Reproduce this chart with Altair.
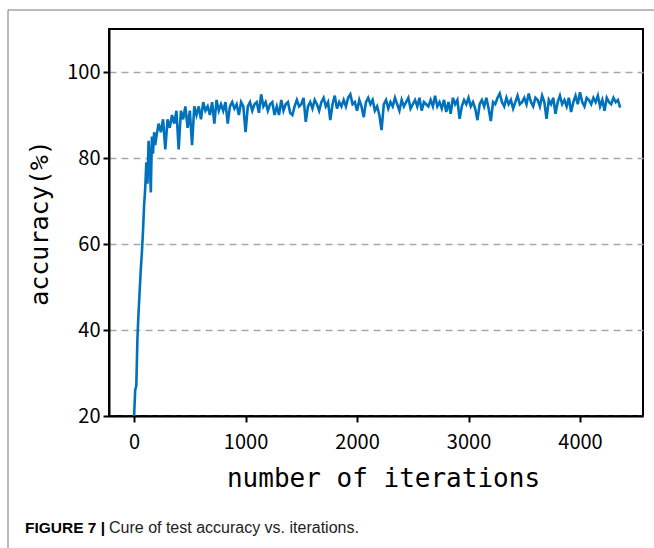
import altair as alt
import pandas as pd

# ---- data ----
iter_early = list(range(0, 210, 10))
acc_early = [20, 26, 27, 38, 44, 49, 54, 58, 63, 69, 73, 79, 74, 84, 80, 72, 85, 81, 86, 83, 85]

iter_late = list(range(220, 4361, 20))
acc_late = [
    88, 86, 89, 82, 89, 87, 90, 88, 91, 82,
    91, 89, 92, 87, 91, 83, 92, 90, 92, 89,
    93, 91, 92, 90, 93, 88, 93.5, 91, 92.5, 91,
    93, 88, 92, 93, 91.5, 92.5, 90, 93, 92, 86,
    92, 93, 91, 92.5, 93, 90.5, 94.8, 92, 93, 91,
    92.5, 93, 90, 92, 90, 93.5, 91, 92.5, 93, 90.5,
    90, 92, 93.5, 92, 92.5, 94, 88.4, 92, 93, 91.5,
    93.5, 92.5, 91, 93, 94, 92, 93, 88.8, 92.5, 94.5,
    91.5, 93, 92, 93.5, 92, 94, 94.8, 92.5, 93, 91,
    93.5, 92, 89.5, 93, 94, 92.5, 93.5, 91, 92, 90,
    86.5, 92.5, 93.5, 91.5, 93, 92, 94, 92.5, 91, 93.5,
    92, 93, 94, 91.5, 92.5, 93.5, 92, 94, 91, 93,
    92.5, 92, 93.5, 92, 94.5, 92, 93, 91.5, 93.5, 90.7,
    93, 90.3, 94, 92.5, 93.5, 89.1, 92, 93.5, 92.5, 94,
    92, 93, 91.5, 88.8, 92.5, 93.5, 92, 94, 91.5, 88.6,
    93, 92.5, 94, 95, 93, 92, 94, 92.5, 93.5, 91.5,
    93, 94.5, 92.5, 93, 94, 92.5, 95, 93, 92, 94,
    93.5, 92, 94.5, 93, 89.1, 93.5, 92.5, 94, 90.3, 93,
    94.5, 92.5, 93.5, 92, 94, 90.7, 93, 94.5, 92.5, 95.3,
    93, 92, 94, 93.5, 92.5, 94, 93, 94.5, 92, 93.5,
    91, 94, 93, 92.5, 94, 93, 93.5, 91.7,
]

x_ticks = [0, 1000, 2000, 3000, 4000]
y_ticks = [20, 40, 60, 80, 100]
x_title = "number of iterations"
y_title = "accuracy(%)"
caption_bold = "FIGURE 7 |"
caption_text = "Cure of test accuracy vs. iterations."

df = pd.DataFrame({"iter": iter_early + iter_late, "acc": acc_early + acc_late})
one = pd.DataFrame({"k": [0]})

TICK_FONT = "Noto Sans CJK SC"
TITLE_FONT = "DejaVu Sans Mono"
CAP_FONT = "Liberation Sans"

line = alt.Chart(df).mark_line(color="#0072BD", strokeWidth=2.6, strokeJoin="miter").encode(
    x=alt.X(
        "iter:Q",
        scale=alt.Scale(domain=[-225, 4565], nice=False, zero=False),
        axis=alt.Axis(
            values=x_ticks, title=x_title, grid=False, format="d",
            labelFont=TICK_FONT, labelFontSize=20, labelPadding=10,
            titleFont=TITLE_FONT, titleFontSize=26, titleFontWeight="normal",
            titlePadding=13, titleX=274,
        ),
    ),
    y=alt.Y(
        "acc:Q",
        scale=alt.Scale(domain=[20, 110], nice=False, zero=False),
        axis=alt.Axis(
            values=y_ticks, title=y_title, grid=True,
            gridDash=[7, 5], gridColor="#a8a8a8", gridWidth=1.5,
            labelFont=TICK_FONT, labelFontSize=20, labelPadding=3,
            titleFont=TITLE_FONT, titleFontSize=25, titleFontWeight="normal",
            titlePadding=14,
        ),
    ),
)

frame_left = alt.Chart(one).mark_rule(color="#777777", strokeWidth=1).encode(
    x=alt.value(-101), y=alt.value(-19), y2=alt.value(519)
)
frame_top = alt.Chart(one).mark_rule(color="#777777", strokeWidth=1).encode(
    x=alt.value(-101), x2=alt.value(545), y=alt.value(-19)
)

cap1 = alt.Chart(one).mark_text(
    text=caption_bold, font=CAP_FONT, fontSize=15.5, fontWeight="bold",
    align="left", baseline="middle", color="black"
).encode(x=alt.value(-84), y=alt.value(499))
cap2 = alt.Chart(one).mark_text(
    text=caption_text, font=CAP_FONT, fontSize=16,
    align="left", baseline="middle", color="#222222"
).encode(x=alt.value(0), y=alt.value(499))

chart = alt.layer(line, frame_left, frame_top, cap1, cap2).properties(
    width=534, height=387,
    padding={"left": 109, "top": 29, "right": 11, "bottom": 132},
    autosize=alt.AutoSizeParams(type="none"),
).configure_view(
    stroke="black", strokeWidth=2
).configure_axis(
    domainColor="black", domainWidth=2, tickColor="black", tickWidth=2,
    tickSize=6, labelColor="black", titleColor="black",
)

chart.save("out.html", embed_options={"renderer": "svg", "actions": False})
